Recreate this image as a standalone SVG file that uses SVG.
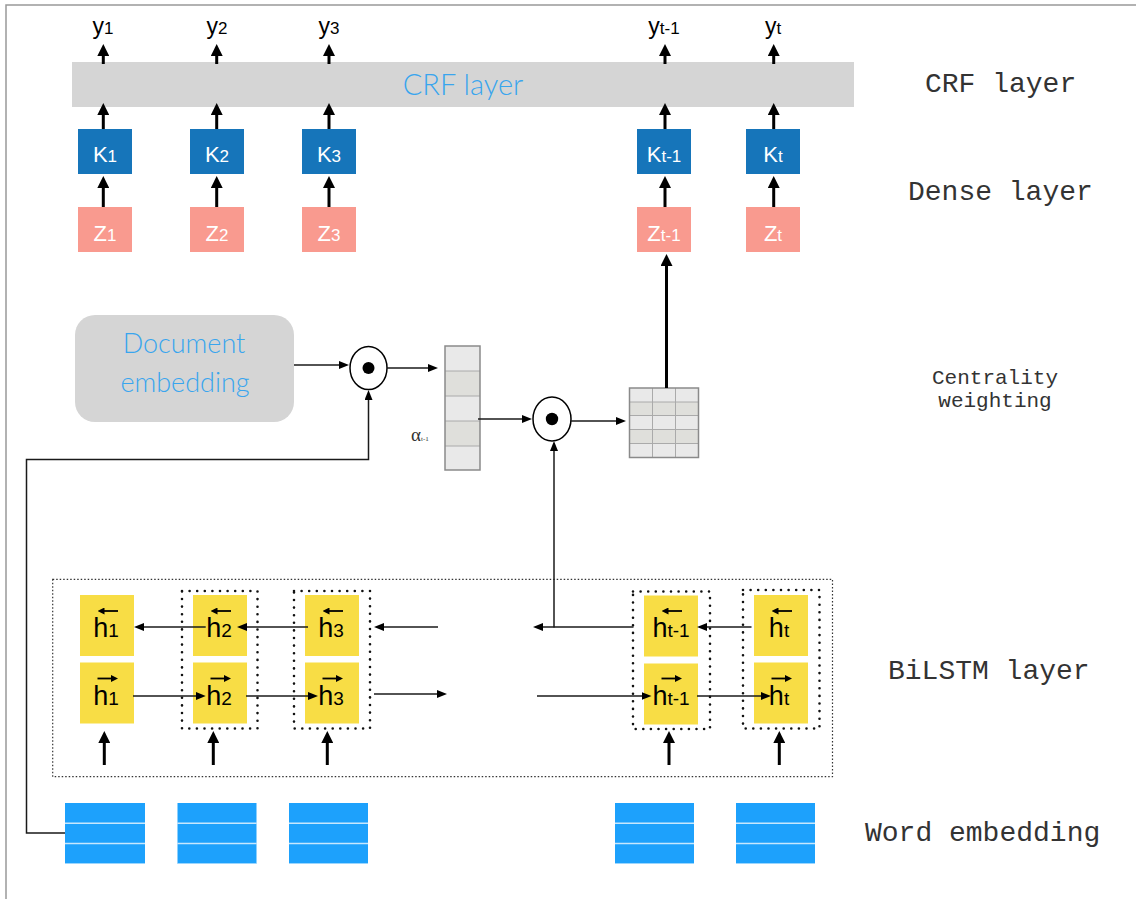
<svg xmlns="http://www.w3.org/2000/svg" width="1136" height="899" viewBox="0 0 1136 899">
  <style>
    .lbl { font-family: "Liberation Mono", "Courier New", monospace; font-size: 28px; fill: #333; }
    .lbl-s { font-family: "Liberation Mono", "Courier New", monospace; font-size: 21px; fill: #333; text-anchor: middle; }
    .hand { font-family: Lato, "Open Sans", sans-serif; font-weight: 300; fill: #39a5ee; }
    .thick { stroke: #000; stroke-width: 3; fill: none; }
    .thin { stroke: #1a1a1a; stroke-width: 1.5; fill: none; }
    .small { stroke: #000; stroke-width: 1.8; fill: none; }
    .kbox { fill: #1675ba; }
    .zbox { fill: #f99a8f; }
    .hbox { fill: #f8dd45; }
    .we { fill: #1da1fc; }
    .weline { stroke: #ffffff; stroke-opacity: 0.75; stroke-width: 1.5; }
    .grp { fill: none; stroke: #111; stroke-width: 2.6; stroke-dasharray: 0 7.6; stroke-linecap: round; }
    .outer { fill: none; stroke: #333; stroke-width: 1.2; stroke-dasharray: 1.5 2; }
    .cellA { fill: #e9e9e9; }
    .cellB { fill: #dfdfdb; }
    .klabel { font-family: "Liberation Sans", Arial, sans-serif; font-size: 22px; fill: #fff; text-anchor: middle; }
    .ylabel { font-family: "Liberation Sans", Arial, sans-serif; font-size: 23px; fill: #000; text-anchor: middle; }
    .hlabel { font-family: "Liberation Sans", Arial, sans-serif; font-size: 27px; fill: #000; text-anchor: middle; }
  </style>
  <defs>
    <marker id="hb" viewBox="0 0 12 12" refX="0.5" refY="6" markerWidth="12" markerHeight="12" markerUnits="userSpaceOnUse" orient="auto">
      <path d="M0,0 L12,6 L0,12 z" fill="#000"/>
    </marker>
    <marker id="ht" viewBox="0 0 10 8" refX="0.5" refY="4" markerWidth="10" markerHeight="8" markerUnits="userSpaceOnUse" orient="auto">
      <path d="M0,0 L10,4 L0,8 z" fill="#000"/>
    </marker>
    <marker id="hs" viewBox="0 0 7 7" refX="0.5" refY="3.5" markerWidth="7" markerHeight="7" markerUnits="userSpaceOnUse" orient="auto">
      <path d="M0,0 L7,3.5 L0,7 z" fill="#000"/>
    </marker>
  </defs>

  <rect x="0" y="0" width="1136" height="899" fill="#fff"/>
  <!-- page frame -->
  <path d="M6,899 V5 H1136" fill="none" stroke="#999" stroke-width="1.5"/>

  <!-- outputs -->
  <g id="outputs">
    <text class="ylabel" x="103" y="34">y<tspan font-size="17">1</tspan></text>
    <text class="ylabel" x="217" y="34">y<tspan font-size="17">2</tspan></text>
    <text class="ylabel" x="329" y="34">y<tspan font-size="17">3</tspan></text>
    <text class="ylabel" x="664" y="34">y<tspan font-size="17">t-1</tspan></text>
    <text class="ylabel" x="773" y="34">y<tspan font-size="17">t</tspan></text>
  </g>

  <g id="crf">
    <rect x="72" y="62" width="782" height="45" fill="#d5d5d5"/>
    <text class="hand" x="463" y="95" font-size="29" text-anchor="middle">CRF layer</text>
  </g>

  <g id="dense-k">
    <rect class="kbox" x="78" y="129" width="54" height="45"/>
    <text class="klabel" x="105" y="162">K<tspan font-size="17">1</tspan></text>
    <rect class="kbox" x="190" y="129" width="54" height="45"/>
    <text class="klabel" x="217" y="162">K<tspan font-size="17">2</tspan></text>
    <rect class="kbox" x="302" y="129" width="54" height="45"/>
    <text class="klabel" x="329" y="162">K<tspan font-size="17">3</tspan></text>
    <rect class="kbox" x="637" y="129" width="54" height="45"/>
    <text class="klabel" x="664" y="162">K<tspan font-size="17">t-1</tspan></text>
    <rect class="kbox" x="746" y="129" width="54" height="45"/>
    <text class="klabel" x="773" y="162">K<tspan font-size="17">t</tspan></text>
  </g>

  <g id="weighted-z">
    <rect class="zbox" x="78" y="207" width="54" height="45"/>
    <text class="klabel" x="105" y="241">Z<tspan font-size="17">1</tspan></text>
    <rect class="zbox" x="190" y="207" width="54" height="45"/>
    <text class="klabel" x="217" y="241">Z<tspan font-size="17">2</tspan></text>
    <rect class="zbox" x="302" y="207" width="54" height="45"/>
    <text class="klabel" x="329" y="241">Z<tspan font-size="17">3</tspan></text>
    <rect class="zbox" x="637" y="207" width="54" height="45"/>
    <text class="klabel" x="664" y="241">Z<tspan font-size="17">t-1</tspan></text>
    <rect class="zbox" x="746" y="207" width="54" height="45"/>
    <text class="klabel" x="773" y="241">Z<tspan font-size="17">t</tspan></text>
  </g>

  <g id="doc-embedding">
    <rect x="75" y="315" width="219" height="107" rx="20" ry="20" fill="#d5d5d5"/>
    <text class="hand" x="184" y="353" font-size="27" text-anchor="middle">Document</text>
    <text class="hand" x="185" y="392" font-size="27" text-anchor="middle">embedding</text>
  </g>

  <g id="product-1">
    <ellipse cx="368.5" cy="368" rx="18.5" ry="21.5" fill="#fff" stroke="#000" stroke-width="1.5"/>
    <circle cx="368.5" cy="368" r="6" fill="#000"/>
  </g>

  <g id="alpha-vector">
    <rect class="cellA" x="445" y="346" width="35" height="25"/>
    <rect class="cellB" x="445" y="371" width="35" height="25"/>
    <rect class="cellA" x="445" y="396" width="35" height="25"/>
    <rect class="cellB" x="445" y="421" width="35" height="25"/>
    <rect class="cellA" x="445" y="446" width="35" height="24"/>
    <path d="M445,371 H480 M445,396 H480 M445,421 H480 M445,446 H480" stroke="#aaa" stroke-width="1"/>
    <rect x="445" y="346" width="35" height="124" fill="none" stroke="#8a8a8a" stroke-width="1.5"/>
    <text x="411" y="441" font-family="Liberation Serif, serif" font-size="19" fill="#333">α<tspan font-size="7">t-1</tspan></text>
  </g>

  <g id="product-2">
    <ellipse cx="552" cy="419" rx="19" ry="22" fill="#fff" stroke="#000" stroke-width="1.5"/>
    <circle cx="552" cy="419" r="6.2" fill="#000"/>
  </g>

  <g id="weighted-matrix">
    <rect class="cellA" x="629.5" y="388" width="69" height="14"/>
    <rect class="cellB" x="629.5" y="402" width="69" height="13.5"/>
    <rect class="cellA" x="629.5" y="415.5" width="69" height="14"/>
    <rect class="cellB" x="629.5" y="429.5" width="69" height="14"/>
    <rect class="cellA" x="629.5" y="443.5" width="69" height="14"/>
    <path d="M629.5,402 H698.5 M629.5,415.5 H698.5 M629.5,429.5 H698.5 M629.5,443.5 H698.5 M652.5,388 V457.5 M675.5,388 V457.5" stroke="#aaa" stroke-width="1"/>
    <rect x="629.5" y="388" width="69" height="69.5" fill="none" stroke="#8a8a8a" stroke-width="1.5"/>
  </g>

  <g id="bilstm">
    <rect class="outer" x="52.7" y="579.3" width="779.8" height="197.4"/>
    <rect class="grp" x="182" y="591" width="75.5" height="137.5"/>
    <rect class="grp" x="294" y="591" width="76" height="137.5"/>
    <rect class="grp" x="633" y="591.5" width="77" height="137.5"/>
    <rect class="grp" x="743" y="590" width="76.5" height="138.5"/>
  </g>

  <g id="h-1">
    <rect class="hbox" x="80" y="595" width="54" height="61"/>
    <text class="hlabel" x="106" y="637">h<tspan font-size="19">1</tspan></text>
    <line class="small" x1="118" y1="611" x2="104" y2="611" marker-end="url(#hs)"/>
    <rect class="hbox" x="80" y="662.5" width="54" height="61"/>
    <text class="hlabel" x="106" y="705">h<tspan font-size="19">1</tspan></text>
    <line class="small" x1="97.5" y1="678.5" x2="111.5" y2="678.5" marker-end="url(#hs)"/>
  </g>
  <g id="h-2">
    <rect class="hbox" x="193" y="595" width="54" height="61"/>
    <text class="hlabel" x="219" y="637">h<tspan font-size="19">2</tspan></text>
    <line class="small" x1="231" y1="611" x2="217" y2="611" marker-end="url(#hs)"/>
    <rect class="hbox" x="193" y="662.5" width="54" height="61"/>
    <text class="hlabel" x="219" y="705">h<tspan font-size="19">2</tspan></text>
    <line class="small" x1="210.5" y1="678.5" x2="224.5" y2="678.5" marker-end="url(#hs)"/>
  </g>
  <g id="h-3">
    <rect class="hbox" x="305" y="595" width="54" height="61"/>
    <text class="hlabel" x="331" y="637">h<tspan font-size="19">3</tspan></text>
    <line class="small" x1="343" y1="611" x2="329" y2="611" marker-end="url(#hs)"/>
    <rect class="hbox" x="305" y="662.5" width="54" height="61"/>
    <text class="hlabel" x="331" y="705">h<tspan font-size="19">3</tspan></text>
    <line class="small" x1="322.5" y1="678.5" x2="336.5" y2="678.5" marker-end="url(#hs)"/>
  </g>
  <g id="h-t-1">
    <rect class="hbox" x="644" y="595.5" width="54" height="61"/>
    <text class="hlabel" x="671" y="637">h<tspan font-size="19">t-1</tspan></text>
    <line class="small" x1="682" y1="611" x2="668" y2="611" marker-end="url(#hs)"/>
    <rect class="hbox" x="644" y="663.5" width="54" height="61"/>
    <text class="hlabel" x="671" y="705">h<tspan font-size="19">t-1</tspan></text>
    <line class="small" x1="661.5" y1="678.5" x2="675.5" y2="678.5" marker-end="url(#hs)"/>
  </g>
  <g id="h-t">
    <rect class="hbox" x="754" y="595" width="54" height="61"/>
    <text class="hlabel" x="779" y="637">h<tspan font-size="19">t</tspan></text>
    <line class="small" x1="792" y1="611" x2="778" y2="611" marker-end="url(#hs)"/>
    <rect class="hbox" x="754" y="662.5" width="54" height="61"/>
    <text class="hlabel" x="779" y="705">h<tspan font-size="19">t</tspan></text>
    <line class="small" x1="771.5" y1="678.5" x2="785.5" y2="678.5" marker-end="url(#hs)"/>
  </g>

  <g id="word-embeddings">
    <rect class="we" x="65" y="803" width="80" height="61"/>
    <rect class="we" x="177.5" y="803" width="79" height="61"/>
    <rect class="we" x="289" y="803" width="79" height="61"/>
    <rect class="we" x="615" y="803" width="79" height="61"/>
    <rect class="we" x="736" y="803" width="79" height="61"/>
    <path class="weline" d="M65,823.3 H145 M65,843.5 H145 M65,864 H145 M177.5,823.3 H256.5 M177.5,843.5 H256.5 M177.5,864 H256.5 M289,823.3 H368 M289,843.5 H368 M289,864 H368 M615,823.3 H694 M615,843.5 H694 M615,864 H694 M736,823.3 H815 M736,843.5 H815 M736,864 H815"/>
  </g>

  <g id="layer-names">
    <text class="lbl" x="925" y="92">CRF layer</text>
    <text class="lbl" x="908" y="200">Dense layer</text>
    <text class="lbl-s" x="995" y="384">Centrality</text>
    <text class="lbl-s" x="995" y="407">weighting</text>
    <text class="lbl" x="888" y="679">BiLSTM layer</text>
    <text class="lbl" x="865" y="841">Word embedding</text>
  </g>

  <g id="connectors">
    <!-- CRF to outputs -->
    <line class="thick" x1="103.3" y1="64" x2="103.3" y2="55.5" marker-end="url(#hb)"/>
    <line class="thick" x1="216.7" y1="64" x2="216.7" y2="55.5" marker-end="url(#hb)"/>
    <line class="thick" x1="329" y1="64" x2="329" y2="55.5" marker-end="url(#hb)"/>
    <line class="thick" x1="665" y1="64" x2="665" y2="55.5" marker-end="url(#hb)"/>
    <line class="thick" x1="773.7" y1="64" x2="773.7" y2="55.5" marker-end="url(#hb)"/>
    <!-- dense to CRF -->
    <line class="thick" x1="103.3" y1="129" x2="103.3" y2="114.5" marker-end="url(#hb)"/>
    <line class="thick" x1="216.7" y1="129" x2="216.7" y2="114.5" marker-end="url(#hb)"/>
    <line class="thick" x1="329" y1="129" x2="329" y2="114.5" marker-end="url(#hb)"/>
    <line class="thick" x1="665" y1="129" x2="665" y2="114.5" marker-end="url(#hb)"/>
    <line class="thick" x1="773.7" y1="129" x2="773.7" y2="114.5" marker-end="url(#hb)"/>
    <!-- Z to K -->
    <line class="thick" x1="103.3" y1="207" x2="103.3" y2="187.5" marker-end="url(#hb)"/>
    <line class="thick" x1="216.7" y1="207" x2="216.7" y2="187.5" marker-end="url(#hb)"/>
    <line class="thick" x1="329" y1="207" x2="329" y2="187.5" marker-end="url(#hb)"/>
    <line class="thick" x1="665" y1="207" x2="665" y2="187.5" marker-end="url(#hb)"/>
    <line class="thick" x1="773.7" y1="207" x2="773.7" y2="187.5" marker-end="url(#hb)"/>
    <!-- weighted matrix to Z(t-1) -->
    <line class="thick" x1="666.5" y1="388" x2="666.5" y2="265.5" marker-end="url(#hb)"/>

    <!-- centrality weighting flow -->
    <line class="thin" x1="294" y1="365" x2="339.5" y2="365" marker-end="url(#ht)"/>
    <line class="thin" x1="387" y1="368" x2="428.5" y2="368" marker-end="url(#ht)"/>
    <line class="thin" x1="478" y1="419" x2="522.5" y2="419" marker-end="url(#ht)"/>
    <line class="thin" x1="571" y1="421" x2="616.5" y2="421" marker-end="url(#ht)"/>
    <path class="thin" d="M65,833 H26.5 V459.5 H368.5 V399.5" marker-end="url(#ht)"/>
    <line class="thin" x1="554" y1="627.5" x2="554" y2="450.5" marker-end="url(#ht)"/>

    <!-- backward LSTM -->
    <line class="thin" x1="205.7" y1="627" x2="143.5" y2="627" marker-end="url(#ht)"/>
    <line class="thin" x1="308" y1="627" x2="246.5" y2="627" marker-end="url(#ht)"/>
    <line class="thin" x1="438" y1="627" x2="383.5" y2="627" marker-end="url(#ht)"/>
    <line class="thin" x1="633.5" y1="627" x2="542.5" y2="627" marker-end="url(#ht)"/>
    <line class="thin" x1="751.5" y1="627" x2="706.5" y2="627" marker-end="url(#ht)"/>
    <!-- forward LSTM -->
    <line class="thin" x1="133" y1="696" x2="196.2" y2="696" marker-end="url(#ht)"/>
    <line class="thin" x1="246" y1="696" x2="308.5" y2="696" marker-end="url(#ht)"/>
    <line class="thin" x1="374" y1="694" x2="437.5" y2="694" marker-end="url(#ht)"/>
    <line class="thin" x1="537" y1="696" x2="642" y2="696" marker-end="url(#ht)"/>
    <line class="thin" x1="697" y1="696" x2="761.5" y2="696" marker-end="url(#ht)"/>

    <!-- inputs into BiLSTM -->
    <line class="thick" x1="104.3" y1="765" x2="104.3" y2="742.5" marker-end="url(#hb)"/>
    <line class="thick" x1="213.3" y1="765" x2="213.3" y2="742.5" marker-end="url(#hb)"/>
    <line class="thick" x1="327.3" y1="765" x2="327.3" y2="742.5" marker-end="url(#hb)"/>
    <line class="thick" x1="669" y1="765" x2="669" y2="742.5" marker-end="url(#hb)"/>
    <line class="thick" x1="779.3" y1="765" x2="779.3" y2="742.5" marker-end="url(#hb)"/>
  </g>
</svg>
